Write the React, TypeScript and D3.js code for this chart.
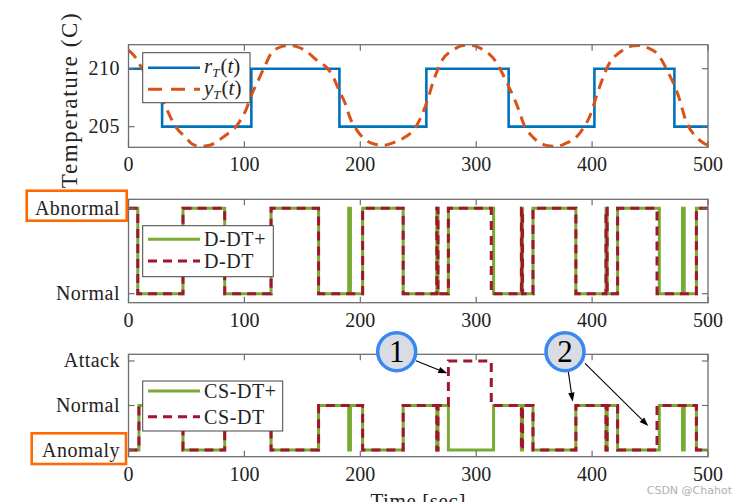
import React from "react";
import * as d3 from "d3";

// ---------- data ----------
const xTicks = [0, 100, 200, 300, 400, 500];
const tempTicks = [205, 210];

// reference temperature (step, value holds until next time)
const rTimes = [0, 29, 106, 182, 257, 328, 402, 471, 500];
const rValues = [210, 205, 210, 205, 210, 205, 210, 205, 205];

// measured temperature
const yTimes = [0, 5, 10, 20, 30, 40, 50, 55, 62, 70, 83, 95, 102, 106, 112, 118, 123, 132, 138, 145, 152, 164, 171, 177, 182, 187, 191, 197, 204, 212, 220, 228, 237, 248, 257, 264, 271, 280, 289, 296, 303, 317, 326, 335, 342, 348, 355, 362, 369, 376, 389, 398, 406, 414, 425, 432, 440, 448, 457, 465, 474, 481, 491, 496, 500];
const yValues = [211.6, 211.1, 210.3, 208.7, 207.1, 205.1, 204.0, 203.5, 203.3, 203.4, 204.2, 205.3, 206.6, 207.7, 209.0, 210.3, 211.3, 211.9, 212.0, 211.9, 211.6, 210.6, 210.1, 209.2, 208.05, 207.0, 205.8, 204.7, 203.9, 203.5, 203.4, 203.6, 204.0, 205.0, 207.0, 209.2, 210.8, 211.6, 212.0, 212.0, 211.8, 210.6, 208.9, 206.9, 205.0, 204.2, 203.6, 203.35, 203.3, 203.5, 204.4, 205.9, 208.3, 210.3, 211.5, 211.9, 212.0, 211.8, 211.2, 209.8, 207.8, 205.5, 204.0, 203.6, 203.4];

// detection (0 = Normal, 1 = Abnormal)
const detLabels = ["Normal", "Abnormal"];
const ddtPlusTimes = [0, 8, 47, 83, 123, 164, 190, 191.5, 202, 237, 266, 267, 276, 315, 339, 340, 349, 386, 412, 413, 422, 458, 478, 479.5, 490, 500];
const ddtPlusValues = [1, 0, 1, 0, 1, 0, 1, 0, 1, 0, 1, 0, 1, 0, 1, 0, 1, 0, 1, 0, 1, 0, 1, 0, 1, 1];
const ddtTimes = [0, 8, 47, 83, 123, 164, 202, 237, 266, 267, 276, 313, 339, 340, 349, 386, 412, 413, 422, 456, 490, 500];
const ddtValues = [1, 0, 1, 0, 1, 0, 1, 0, 1, 0, 1, 0, 1, 0, 1, 0, 1, 0, 1, 0, 1, 1];

// classification (0 = Anomaly, 1 = Normal, 2 = Attack)
const clsLabels = ["Anomaly", "Normal", "Attack"];
const csdtPlusTimes = [0, 9, 47, 83, 123, 164, 190, 191.5, 202, 237, 266, 267, 276, 315, 339, 340, 349, 386, 412, 413, 422, 458, 478, 479.5, 490, 500];
const csdtPlusValues = [0, 1, 0, 1, 0, 1, 0, 1, 0, 1, 0, 1, 0, 1, 0, 1, 0, 1, 0, 1, 0, 1, 0, 1, 0, 0];
const csdtTimes = [0, 9, 47, 83, 123, 164, 202, 237, 266, 267, 276, 313, 339, 340, 349, 386, 412, 413, 422, 456, 490, 500];
const csdtValues = [0, 1, 0, 1, 0, 1, 0, 1, 0, 1, 2, 1, 0, 1, 0, 1, 0, 1, 0, 1, 0, 0];

// ---------- styling ----------
const W = 748;
const H = 502;
const X0 = 128.5;
const X1 = 708;
const FONT = "Liberation Serif, DejaVu Serif, serif";
const AXC = "#6e6e6e";
const BLUE = "#0072BD";
const ORANGE = "#D95319";
const GREEN = "#77AC30";
const MAROON = "#A2142F";
const HILITE = "#FF6A00";

const x = d3.scaleLinear().domain([0, 500]).range([X0, X1]);

type Panel = { top: number; bottom: number; y: d3.ScaleLinear<number, number> };
const p1: Panel = { top: 44.7, bottom: 147.3, y: d3.scaleLinear().domain([203.22, 212.07]).range([147.3, 44.7]) };
const p2: Panel = { top: 199.3, bottom: 302.7, y: d3.scaleLinear().domain([-0.105, 1.105]).range([302.7, 199.3]) };
const p3: Panel = { top: 354.3, bottom: 456.7, y: d3.scaleLinear().domain([-0.15, 2.15]).range([456.7, 354.3]) };

function zip(ts: number[], vs: number[]) {
  return ts.map((t, i) => [t, vs[i]] as [number, number]);
}

function stepPath(p: Panel, ts: number[], vs: number[]) {
  return d3
    .line<[number, number]>()
    .x((d) => x(d[0]))
    .y((d) => p.y(d[1]))
    .curve(d3.curveStepAfter)(zip(ts, vs)) as string;
}

function smoothPath(p: Panel, ts: number[], vs: number[]) {
  return d3
    .line<[number, number]>()
    .x((d) => x(d[0]))
    .y((d) => p.y(d[1]))
    .curve(d3.curveMonotoneX)(zip(ts, vs)) as string;
}

function Frame({ p, yTickVals, yTickText, id }: { p: Panel; yTickVals: number[]; yTickText: string[]; id: string }) {
  const tl = 6;
  return (
    <g>
      <rect x={X0} y={p.top} width={X1 - X0} height={p.bottom - p.top} fill="none" stroke={AXC} strokeWidth={1.3} />
      {xTicks.map((t) => (
        <g key={id + "x" + t}>
          <line x1={x(t)} x2={x(t)} y1={p.bottom} y2={p.bottom - tl} stroke={AXC} strokeWidth={1.2} />
          <line x1={x(t)} x2={x(t)} y1={p.top} y2={p.top + tl} stroke={AXC} strokeWidth={1.2} />
          <text x={x(t)} y={p.bottom + 24} textAnchor="middle" fontSize={20} fontFamily={FONT} fill="#222">
            {t}
          </text>
        </g>
      ))}
      {yTickVals.map((v, i) => (
        <g key={id + "y" + v}>
          <line x1={X0} x2={X0 + tl} y1={p.y(v)} y2={p.y(v)} stroke={AXC} strokeWidth={1.2} />
          <line x1={X1} x2={X1 - tl} y1={p.y(v)} y2={p.y(v)} stroke={AXC} strokeWidth={1.2} />
          <text x={120} y={p.y(v) + 6.5} textAnchor="end" fontSize={20} fontFamily={FONT} letterSpacing={0.5} fill="#222">
            {yTickText[i]}
          </text>
        </g>
      ))}
    </g>
  );
}

function Arrow({ x1, y1, x2, y2 }: { x1: number; y1: number; x2: number; y2: number }) {
  const a = Math.atan2(y2 - y1, x2 - x1);
  const L = 9;
  const w = 3.2;
  const bx = x2 - L * Math.cos(a);
  const by = y2 - L * Math.sin(a);
  const pts = [
    [x2, y2],
    [bx + w * Math.sin(a), by - w * Math.cos(a)],
    [bx - w * Math.sin(a), by + w * Math.cos(a)],
  ];
  return (
    <g>
      <line x1={x1} y1={y1} x2={bx} y2={by} stroke="#000" strokeWidth={1.1} />
      <polygon points={pts.map((p) => p.join(",")).join(" ")} fill="#000" />
    </g>
  );
}

function Badge({ cx, cy, label }: { cx: number; cy: number; label: string }) {
  return (
    <g>
      <circle cx={cx} cy={cy} r={19} fill="#D9DCE2" stroke="#3A87F2" strokeWidth={3.5} />
      <text x={cx} y={cy + 10.5} textAnchor="middle" fontSize={31} fontFamily={FONT} fill="#000">
        {label}
      </text>
    </g>
  );
}

export default function App() {
  const clip = (p: Panel, id: string) => (
    <clipPath id={id}>
      <rect x={X0} y={p.top - 1} width={X1 - X0} height={p.bottom - p.top + 2} />
    </clipPath>
  );
  return (
    <svg width={W} height={H} style={{ position: "absolute", left: 0, top: 0, background: "#fff" }}>
      <defs>
        {clip(p1, "c1")}
        {clip(p2, "c2")}
        {clip(p3, "c3")}
      </defs>
      <rect x={0} y={0} width={W} height={H} fill="#fff" />

      {/* Panel 1 */}
      <g clipPath="url(#c1)">
        <path d={stepPath(p1, rTimes, rValues)} fill="none" stroke={BLUE} strokeWidth={2.6} />
        <path d={smoothPath(p1, yTimes, yValues)} fill="none" stroke={ORANGE} strokeWidth={3} strokeDasharray="11,7" />
      </g>
      <Frame p={p1} yTickVals={tempTicks} yTickText={tempTicks.map(String)} id="p1" />
      <text
        transform={`translate(77,${(p1.top + p1.bottom) / 2 + 4}) rotate(-90)`}
        textAnchor="middle"
        fontSize={23}
        letterSpacing={1.6}
        fontFamily={FONT}
        fill="#222"
      >
        Temperature (C)
      </text>
      <g>
        <rect x={142.7} y={52.7} width={107.3} height={50} fill="#fff" stroke="#444" strokeWidth={1} />
        <line x1={148} x2={200} y1={67.7} y2={67.7} stroke={BLUE} strokeWidth={2.6} />
        <line x1={148} x2={200} y1={89.3} y2={89.3} stroke={ORANGE} strokeWidth={3} strokeDasharray="14,9" />
        <text x={204} y={73} fontSize={21} fontFamily={FONT} fill="#222">
          <tspan fontStyle="italic">r</tspan>
          <tspan fontStyle="italic" fontSize={13} dy={3.5}>T</tspan>
          <tspan dy={-3.5} dx={1}>(</tspan>
          <tspan fontStyle="italic">t</tspan>
          <tspan>)</tspan>
        </text>
        <text x={204} y={95} fontSize={21} fontFamily={FONT} fill="#222">
          <tspan fontStyle="italic">y</tspan>
          <tspan fontStyle="italic" fontSize={13} dy={3.5}>T</tspan>
          <tspan dy={-3.5} dx={1}>(</tspan>
          <tspan fontStyle="italic">t</tspan>
          <tspan>)</tspan>
        </text>
      </g>

      {/* Panel 2 */}
      <g clipPath="url(#c2)">
        <path d={stepPath(p2, ddtPlusTimes, ddtPlusValues)} fill="none" stroke={GREEN} strokeWidth={3} />
        <path d={stepPath(p2, ddtTimes, ddtValues)} fill="none" stroke={MAROON} strokeWidth={3} strokeDasharray="9,6" />
      </g>
      <Frame p={p2} yTickVals={[0, 1]} yTickText={detLabels} id="p2" />
      <rect x={26.7} y={190.7} width={100} height={30} fill="none" stroke={HILITE} strokeWidth={2.6} />
      <g>
        <rect x={142.7} y={225.7} width={130.6} height={51} fill="#fff" stroke="#444" strokeWidth={1} />
        <line x1={148} x2={200} y1={239.3} y2={239.3} stroke={GREEN} strokeWidth={3} />
        <line x1={148} x2={200} y1={261} y2={261} stroke={MAROON} strokeWidth={3} strokeDasharray="9,6" />
        <text x={204} y={246} fontSize={20} fontFamily={FONT} letterSpacing={0.6} fill="#222">D-DT+</text>
        <text x={204} y={268} fontSize={20} fontFamily={FONT} letterSpacing={0.6} fill="#222">D-DT</text>
      </g>

      {/* Panel 3 */}
      <g clipPath="url(#c3)">
        <path d={stepPath(p3, csdtPlusTimes, csdtPlusValues)} fill="none" stroke={GREEN} strokeWidth={3} />
        <path d={stepPath(p3, csdtTimes, csdtValues)} fill="none" stroke={MAROON} strokeWidth={3} strokeDasharray="9,6" />
      </g>
      <Frame p={p3} yTickVals={[0, 1, 2]} yTickText={clsLabels} id="p3" />
      <rect x={31.7} y={433.3} width={94.3} height={30.7} fill="none" stroke={HILITE} strokeWidth={2.6} />
      <g>
        <rect x={142.7} y={381} width={140} height={50} fill="#fff" stroke="#444" strokeWidth={1} />
        <line x1={148} x2={200} y1={391} y2={391} stroke={GREEN} strokeWidth={3} />
        <line x1={148} x2={200} y1={416.7} y2={416.7} stroke={MAROON} strokeWidth={3} strokeDasharray="9,6" />
        <text x={204} y={398} fontSize={20} fontFamily={FONT} letterSpacing={0.6} fill="#222">CS-DT+</text>
        <text x={204} y={423.5} fontSize={20} fontFamily={FONT} letterSpacing={0.6} fill="#222">CS-DT</text>
      </g>

      {/* annotations */}
      <Arrow x1={416} y1={360.7} x2={447.3} y2={373.3} />
      <Arrow x1={568.3} y1={371.7} x2={572.7} y2={401.7} />
      <Arrow x1={585} y1={363.3} x2={648.3} y2={426} />
      <Badge cx={396.7} cy={351.7} label="1" />
      <Badge cx={565} cy={351.7} label="2" />

      <text x={(X0 + X1) / 2} y={508} textAnchor="middle" fontSize={21} fontFamily={FONT} letterSpacing={0.6} fill="#222">
        Time [sec]
      </text>
      <text x={732} y={494} textAnchor="end" fontSize={11} fontFamily="DejaVu Sans, sans-serif" fill="#b0b0b0">
        CSDN @Chahot
      </text>
    </svg>
  );
}
